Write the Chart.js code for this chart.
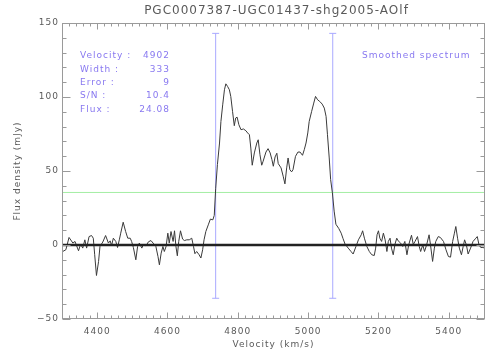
<!DOCTYPE html>
<html>
<head>
<meta charset="utf-8">
<script src="https://cdn.jsdelivr.net/npm/chart.js@4.4.1/dist/chart.umd.min.js"></script>
<style>
  html, body { margin: 0; padding: 0; background: #fff; }
  canvas { display: block; }
</style>
</head>
<body>
<canvas id="espectro" width="504" height="360"></canvas>
<script>
const velocity = [
  4302, 4311, 4320, 4331, 4337, 4347, 4353, 4359, 4365, 4370,
  4377, 4384, 4389, 4393, 4398, 4404, 4408, 4416, 4424, 4432,
  4437, 4441, 4446, 4453, 4458, 4463, 4467, 4474, 4481, 4487,
  4494, 4498, 4503, 4510, 4515, 4520, 4527, 4531, 4539, 4546,
  4553, 4559, 4567, 4573, 4577, 4582, 4587, 4591, 4596, 4601,
  4605, 4610, 4616, 4620, 4624, 4628, 4632, 4637, 4643, 4648,
  4655, 4662, 4669, 4674, 4678, 4683, 4690, 4695, 4700, 4704,
  4709, 4716, 4722, 4729, 4733, 4737, 4742, 4748, 4752, 4757,
  4762, 4766, 4771, 4776, 4780, 4785, 4790, 4794, 4798, 4803,
  4809, 4816, 4823, 4828, 4833, 4837, 4841, 4847, 4854, 4858,
  4863, 4868, 4872, 4880, 4886, 4892, 4897, 4901, 4906, 4911,
  4915, 4923, 4929, 4934, 4939, 4943, 4948, 4953, 4957, 4964,
  4971, 4977, 4984, 4989, 4994, 4999, 5003, 5010, 5016, 5021,
  5027, 5033, 5040, 5046, 5051, 5055, 5060, 5064, 5069, 5074,
  5079, 5087, 5094, 5099, 5105, 5114, 5122, 5128, 5136, 5143,
  5151, 5155, 5160, 5167, 5174, 5181, 5188, 5192, 5196, 5200,
  5204, 5209, 5214, 5219, 5224, 5228, 5233, 5237, 5242, 5247,
  5252, 5256, 5263, 5269, 5275, 5281, 5286, 5294, 5299, 5304,
  5311, 5316, 5320, 5326, 5331, 5337, 5344, 5348, 5354, 5359,
  5363, 5370, 5376, 5385, 5392, 5399, 5405, 5411, 5416, 5420,
  5425, 5430, 5436, 5441, 5445, 5450, 5455, 5462, 5469, 5477,
  5481, 5486, 5491, 5497, 5503
];
const flux = [
  -4.4, -3.2, 5.1, 1.3, 2.4, -3.9, 0.6, -2.1, 3.5, -2.1,
  5.7, 6.4, 4.6, -6.6, -20.6, -11.1, -1.0, 2.0, 6.4, 1.3,
  2.8, -0.3, 4.6, 2.4, -1.7, 3.5, 8.0, 15.4, 9.1, 4.6,
  4.6, 2.4, -1.7, -10.0, -1.0, 1.3, -2.1, 0.1, -0.5, 2.2,
  3.0, 1.3, -1.0, -7.8, -13.4, -5.5, -1.0, -4.4, -1.0, 8.0,
  1.3, 9.1, 2.4, 9.6, -1.0, -7.3, 2.4, 9.6, 4.0, 3.0,
  3.5, 3.5, 4.6, -1.0, -5.9, -4.4, -6.6, -8.8, -3.2, 3.5,
  9.1, 13.6, 17.5, 17.0, 20.0, 38.0, 54.3, 68.9, 83.5, 94.7,
  104.9, 108.9, 107.1, 104.9, 100.4, 90.3, 80.6, 85.8, 86.4, 81.3,
  77.9, 78.4, 77.2, 75.7, 74.5, 65.5, 53.9, 62.2, 68.9, 71.1,
  61.0, 53.9, 56.6, 62.8, 65.1, 62.2, 57.7, 53.2, 59.5, 62.0,
  55.0, 52.1, 46.5, 41.3, 52.1, 58.8, 50.9, 49.4, 50.9, 59.9,
  62.8, 62.8, 60.6, 64.4, 68.9, 75.7, 83.5, 90.3, 95.9, 100.4,
  98.1, 97.0, 95.2, 92.5, 86.9, 74.5, 58.8, 44.2, 35.2, 22.9,
  14.0, 11.2, 8.0, 4.5, 0.6, -2.1, -4.4, -6.1, -1.0, 3.5,
  6.9, 9.6, 4.6, -1.0, -4.4, -6.6, -7.1, -2.1, 6.9, 9.6,
  4.6, 2.4, 8.0, 3.5, -4.4, 2.4, 4.6, -2.1, -6.6, 0.6,
  4.6, 2.8, 1.3, -1.0, 2.4, -6.6, 0.1, 6.6, 0.3, 2.4,
  5.7, -1.0, -4.4, 0.1, -4.4, 0.1, 6.9, 0.1, -11.1, -2.1,
  2.4, 5.7, 5.1, 2.4, -3.2, -7.8, -8.2, 2.4, 8.0, 12.5,
  4.6, -2.1, -6.6, -1.0, 3.5, 0.1, -6.1, -2.1, 2.4, 4.6,
  5.7, 0.1, -1.7, -1.7, -2.1
];

// Eixos e marcas
const xRange = [4300, 5503];
const yRange = [-50, 150];
const xTicks = [4400, 4600, 4800, 5000, 5200, 5400];
const yTicks = [-50, 0, 50, 100, 150];
const edgeVelocities = [4737, 5070];   // limites da linha (linhas azuis)
const edgeSpan = [-36, 143];
const levelFlux = 35.5;                // linha verde

// Textos
const titulo = 'PGC0007387-UGC01437-shg2005-AOlf';
const infoLabels = ['Velocity :', 'Width :', 'Error :', 'S/N :', 'Flux :'];
const infoValues = ['4902', '333', '9', '10.4', '24.08'];
const legenda = 'Smoothed spectrum';

const corTexto = '#5a5a5a';
const corAzul = '#8878f0';

Chart.defaults.font.family = '"DejaVu Sans", sans-serif';

// Plugin para moldura, ticks internos e textos
const decoracao = {
    id: 'decoracao',
    beforeLayout(chart) { chart.ctx.letterSpacing = '1px'; },
    beforeDraw(chart) { chart.ctx.letterSpacing = '1px'; },
    afterDraw(chart) {
        const { ctx, chartArea: a, scales: { x, y } } = chart;
        ctx.save();
        ctx.strokeStyle = '#9a9a9a';
        ctx.lineWidth = 1;
        const l = Math.round(a.left) + 0.5, r = Math.round(a.right) - 0.5;
        const t = Math.round(a.top) + 0.5, b = Math.round(a.bottom) - 0.5;
        ctx.strokeRect(l, t, r - l, b - t);

        ctx.beginPath();
        for (let v = 4300; v <= xRange[1]; v += 20) {
            const px = Math.round(x.getPixelForValue(v)) + 0.5;
            const len = v % 200 === 0 ? 6 : 3;
            ctx.moveTo(px, b); ctx.lineTo(px, b - len);
            ctx.moveTo(px, t); ctx.lineTo(px, t + len);
        }
        for (let v = yRange[0]; v <= yRange[1]; v += 10) {
            const py = Math.round(y.getPixelForValue(v)) + 0.5;
            const len = v % 50 === 0 ? 8 : 4;
            ctx.moveTo(l, py); ctx.lineTo(l + len, py);
            ctx.moveTo(r, py); ctx.lineTo(r - len, py);
        }
        ctx.stroke();

        // Título
        ctx.fillStyle = corTexto;
        ctx.font = '12px "DejaVu Sans"';
        ctx.textAlign = 'center';
        ctx.textBaseline = 'middle';
        ctx.fillText(titulo, (a.left + a.right) / 2 + 3, 11);

        // Bloco de informações
        ctx.fillStyle = corAzul;
        ctx.font = '9px "DejaVu Sans"';
        infoLabels.forEach((txt, i) => {
            const py = 56 + i * 13.3;
            ctx.textAlign = 'left';
            ctx.fillText(txt, 80, py);
            ctx.textAlign = 'right';
            ctx.fillText(infoValues[i], 170, py);
        });
        ctx.textAlign = 'left';
        ctx.fillText(legenda, 362, 56);
        ctx.restore();
    }
};

function linha(x0, y0, x1, y1) {
    return [{ x: x0, y: y0 }, { x: x1, y: y1 }];
}

const datasets = [
    {
        label: 'zero',
        data: linha(xRange[0], 0, xRange[1], 0),
        borderColor: '#222',
        borderWidth: 2.6,
        pointRadius: 0,
        order: 0
    },
    {
        label: 'espectro',
        data: velocity.map((v, i) => ({ x: v, y: flux[i] })),
        borderColor: '#3a3a3a',
        borderWidth: 1,
        pointRadius: 0,
        order: 1
    },
    {
        label: 'nivel',
        data: linha(xRange[0], levelFlux, xRange[1], levelFlux),
        borderColor: '#a4eea4',
        borderWidth: 1,
        pointRadius: 0,
        order: 2
    }
];
edgeVelocities.forEach(v => {
    datasets.push({
        label: 'borda',
        data: linha(v, edgeSpan[0], v, edgeSpan[1]),
        borderColor: '#a9a9ff',
        borderWidth: 1,
        pointStyle: 'line',
        pointRadius: 3.5,
        pointBorderWidth: 1,
        order: 3
    });
});

const ctx = document.getElementById('espectro').getContext('2d');
const grafico = new Chart(ctx, {
    type: 'line',
    data: { datasets: datasets },
    options: {
        responsive: false,
        animation: false,
        layout: { padding: { top: 23, right: 19, left: 0, bottom: 0 } },
        plugins: {
            legend: { display: false },
            tooltip: { enabled: false }
        },
        scales: {
            x: {
                type: 'linear',
                min: xRange[0],
                max: xRange[1],
                grid: { display: false, drawTicks: false },
                border: { display: false },
                afterBuildTicks: s => { s.ticks = xTicks.map(v => ({ value: v })); },
                afterFit: s => { s.height = 41; },
                ticks: {
                    color: corTexto,
                    font: { size: 9 },
                    padding: 7,
                    maxRotation: 0,
                    autoSkip: false,
                    callback: v => String(v)
                },
                title: {
                    display: true,
                    text: 'Velocity (km/s)',
                    color: corTexto,
                    font: { size: 9 },
                    padding: { top: 0, bottom: 10 }
                }
            },
            y: {
                type: 'linear',
                min: yRange[0],
                max: yRange[1],
                grid: { display: false, drawTicks: false },
                border: { display: false },
                afterBuildTicks: s => { s.ticks = yTicks.map(v => ({ value: v })); },
                afterFit: s => { s.width = 62; },
                ticks: {
                    color: corTexto,
                    font: { size: 9 },
                    padding: 3,
                    callback: v => String(v).replace('-', '\u2212')
                },
                title: {
                    display: true,
                    text: 'Flux density (mJy)',
                    color: corTexto,
                    font: { size: 9 },
                    padding: { top: 12, bottom: 0 }
                }
            }
        }
    },
    plugins: [decoracao]
});
</script>
</body>
</html>
